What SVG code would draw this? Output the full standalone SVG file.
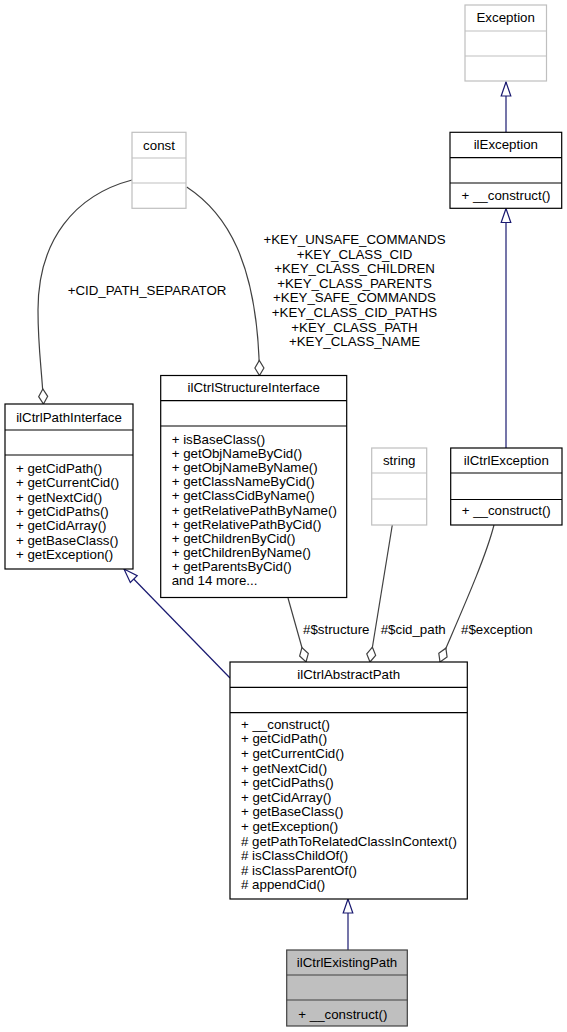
<svg xmlns="http://www.w3.org/2000/svg" width="567" height="1032" viewBox="0 0 567 1032">
<style>
text{font-family:"Liberation Sans",Arial,Helvetica,sans-serif;font-size:13.3px;fill:#000}
.t{text-anchor:middle}
.l{text-anchor:middle}
.box{fill:#fff;stroke:#000;stroke-width:1.2}
.gbox{fill:#fff;stroke:#bfbfbf;stroke-width:1.2}
.cur{fill:#bfbfbf;stroke:#404040;stroke-width:1.2}
.div{stroke:#000;stroke-width:1.2}
.gdiv{stroke:#bfbfbf;stroke-width:1.2}
.cdiv{stroke:#404040;stroke-width:1.2}
.inh{fill:none;stroke:#191970;stroke-width:1.2;marker-end:url(#tri)}
.agg{fill:none;stroke:#404040;stroke-width:1.2;marker-end:url(#dia)}
</style>
<defs>
<marker id="tri" markerUnits="userSpaceOnUse" markerWidth="20" markerHeight="20" refX="0" refY="0" orient="auto" overflow="visible">
<polygon points="0,0 -14,-4.8 -14,4.8" fill="#fff" stroke="#191970" stroke-width="1.2"/>
</marker>
<marker id="dia" markerUnits="userSpaceOnUse" markerWidth="20" markerHeight="20" refX="0" refY="0" orient="auto" overflow="visible">
<polygon points="0,0 -7.5,-4.5 -15,0 -7.5,4.5" fill="#fff" stroke="#404040" stroke-width="1.2"/>
</marker>
</defs>

<g id="connectors">
<path class="inh" d="M506,132 L506,82"/>
<path class="inh" d="M506,448 L506,208.5"/>
<path class="inh" d="M230,678 L124,569"/>
<path class="inh" d="M348,950 L348,899"/>
<path class="agg" d="M132,180 C75,195 38,240 38,310 C38,350 42,370 43.5,404"/>
<path class="agg" d="M186.7,187 C225,212 258,260 259.5,375.5"/>
<path class="agg" d="M288,598 L306,662"/>
<path class="agg" d="M392.3,525 L370,662"/>
<path class="agg" d="M494,525 C485,560 460,615 440,662"/>
<text class="l" x="147" y="295.2">+CID_PATH_SEPARATOR</text>
<text class="l" x="354.5" y="244">+KEY_UNSAFE_COMMANDS</text>
<text class="l" x="354.5" y="258.6">+KEY_CLASS_CID</text>
<text class="l" x="354.5" y="273.2">+KEY_CLASS_CHILDREN</text>
<text class="l" x="354.5" y="287.8">+KEY_CLASS_PARENTS</text>
<text class="l" x="354.5" y="302.4">+KEY_SAFE_COMMANDS</text>
<text class="l" x="354.5" y="317">+KEY_CLASS_CID_PATHS</text>
<text class="l" x="354.5" y="331.6">+KEY_CLASS_PATH</text>
<text class="l" x="354.5" y="346.2">+KEY_CLASS_NAME</text>
<text x="303" y="633.5">#$structure</text>
<text x="380.7" y="633.5">#$cid_path</text>
<text x="461" y="633.5">#$exception</text>
</g>

<g id="Exception">
<rect class="gbox" x="465" y="5" width="81.5" height="76"/>
<line class="gdiv" x1="465" y1="31" x2="546.5" y2="31"/>
<line class="gdiv" x1="465" y1="56" x2="546.5" y2="56"/>
<text class="t" x="505.7" y="22">Exception</text>
</g>

<g id="ilException">
<rect class="box" x="450" y="132.3" width="111.7" height="76"/>
<line class="div" x1="450" y1="157.7" x2="561.7" y2="157.7"/>
<line class="div" x1="450" y1="183" x2="561.7" y2="183"/>
<text class="t" x="505.8" y="149">ilException</text>
<text x="461.5" y="199.5">+ __construct()</text>
</g>

<g id="const">
<rect class="gbox" x="132" y="132.3" width="54" height="76"/>
<line class="gdiv" x1="132" y1="158" x2="186" y2="158"/>
<line class="gdiv" x1="132" y1="183" x2="186" y2="183"/>
<text class="t" x="159" y="149.5">const</text>
</g>

<g id="ilCtrlPathInterface">
<rect class="box" x="5" y="404" width="128" height="165"/>
<line class="div" x1="5" y1="430" x2="133" y2="430"/>
<line class="div" x1="5" y1="455" x2="133" y2="455"/>
<text class="t" x="69" y="421.5">ilCtrlPathInterface</text>
<text x="16" y="472.8">+ getCidPath()</text>
<text x="16" y="487.1">+ getCurrentCid()</text>
<text x="16" y="501.5">+ getNextCid()</text>
<text x="16" y="515.8">+ getCidPaths()</text>
<text x="16" y="530.1">+ getCidArray()</text>
<text x="16" y="544.5">+ getBaseClass()</text>
<text x="16" y="558.8">+ getException()</text>
</g>

<g id="ilCtrlStructureInterface">
<rect class="box" x="160.7" y="375.5" width="186" height="222"/>
<line class="div" x1="160.7" y1="400.7" x2="346.7" y2="400.7"/>
<line class="div" x1="160.7" y1="426" x2="346.7" y2="426"/>
<text class="t" x="253.7" y="392">ilCtrlStructureInterface</text>
<text x="171.7" y="443.5">+ isBaseClass()</text>
<text x="171.7" y="457.7">+ getObjNameByCid()</text>
<text x="171.7" y="471.9">+ getObjNameByName()</text>
<text x="171.7" y="486.1">+ getClassNameByCid()</text>
<text x="171.7" y="500.3">+ getClassCidByName()</text>
<text x="171.7" y="514.5">+ getRelativePathByName()</text>
<text x="171.7" y="528.7">+ getRelativePathByCid()</text>
<text x="171.7" y="542.8">+ getChildrenByCid()</text>
<text x="171.7" y="557">+ getChildrenByName()</text>
<text x="171.7" y="571.2">+ getParentsByCid()</text>
<text x="171.7" y="585.4">and 14 more...</text>
</g>

<g id="string">
<rect class="gbox" x="371.7" y="448" width="55" height="77"/>
<line class="gdiv" x1="371.7" y1="473" x2="426.7" y2="473"/>
<line class="gdiv" x1="371.7" y1="499" x2="426.7" y2="499"/>
<text class="t" x="399.2" y="465.2">string</text>
</g>

<g id="ilCtrlException">
<rect class="box" x="450.7" y="448" width="111.3" height="77"/>
<line class="div" x1="450.7" y1="473" x2="562" y2="473"/>
<line class="div" x1="450.7" y1="499.5" x2="562" y2="499.5"/>
<text class="t" x="506.3" y="465.2">ilCtrlException</text>
<text x="461.7" y="515.2">+ __construct()</text>
</g>

<g id="ilCtrlAbstractPath">
<rect class="box" x="230" y="662" width="237.3" height="237"/>
<line class="div" x1="230" y1="687.3" x2="467.3" y2="687.3"/>
<line class="div" x1="230" y1="712.7" x2="467.3" y2="712.7"/>
<text class="t" x="348.7" y="679">ilCtrlAbstractPath</text>
<text x="241" y="728.8">+ __construct()</text>
<text x="241" y="743.4">+ getCidPath()</text>
<text x="241" y="758">+ getCurrentCid()</text>
<text x="241" y="772.6">+ getNextCid()</text>
<text x="241" y="787.2">+ getCidPaths()</text>
<text x="241" y="801.8">+ getCidArray()</text>
<text x="241" y="816.4">+ getBaseClass()</text>
<text x="241" y="831">+ getException()</text>
<text x="241" y="845.6"># getPathToRelatedClassInContext()</text>
<text x="241" y="860.2"># isClassChildOf()</text>
<text x="241" y="874.8"># isClassParentOf()</text>
<text x="241" y="889.4"># appendCid()</text>
</g>

<g id="ilCtrlExistingPath">
<rect class="cur" x="286.7" y="950" width="120.6" height="76"/>
<line class="cdiv" x1="286.7" y1="975" x2="407.3" y2="975"/>
<line class="cdiv" x1="286.7" y1="1000" x2="407.3" y2="1000"/>
<text class="t" x="347" y="967.2">ilCtrlExistingPath</text>
<text x="298.3" y="1018.5">+ __construct()</text>
</g>
</svg>
